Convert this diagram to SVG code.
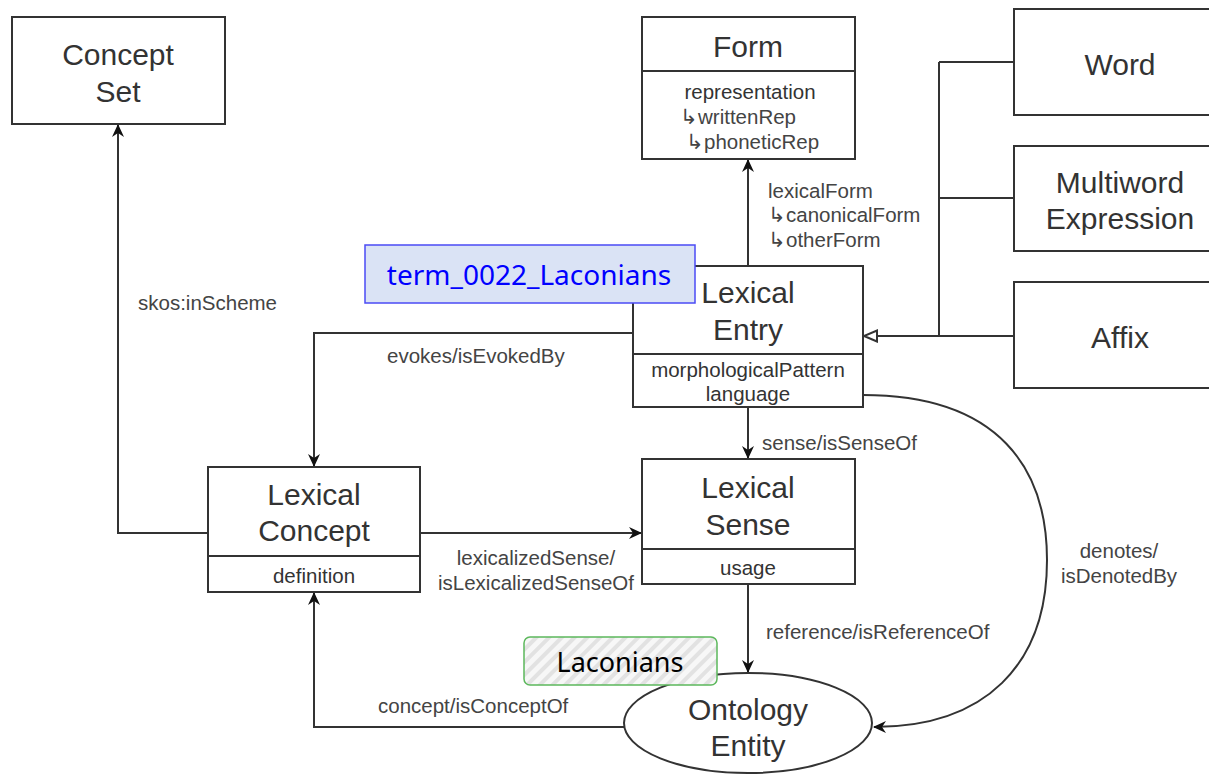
<svg xmlns="http://www.w3.org/2000/svg" width="1209" height="774" viewBox="0 0 1209 774">
<defs>
<style>
.box{fill:#fff;stroke:#333;stroke-width:2}
.ln{fill:none;stroke:#333;stroke-width:2}
.t{font-family:"Liberation Sans",Arial,sans-serif;font-size:30px;fill:#333;text-anchor:middle}
.a{font-family:"Liberation Sans",Arial,sans-serif;font-size:20.5px;fill:#333;text-anchor:middle}
.l{font-family:"Liberation Sans",Arial,sans-serif;font-size:20.5px;fill:#444}
.lc{font-family:"Liberation Sans",Arial,sans-serif;font-size:20.5px;fill:#444;text-anchor:middle}
.tag{font-family:"Noto Sans",sans-serif;font-size:27px;text-anchor:middle}
.tag28{font-size:28px}
</style>
<marker id="arr" markerWidth="14" markerHeight="12" refX="12" refY="6" orient="auto" markerUnits="userSpaceOnUse">
<path d="M0,0 L13,6 L0,12 L4,6 z" fill="#111"/>
</marker>
<marker id="tri" markerWidth="16" markerHeight="14" refX="14" refY="7" orient="auto" markerUnits="userSpaceOnUse">
<path d="M1,1.5 L14,7 L1,12.5 z" fill="#fff" stroke="#333" stroke-width="2"/>
</marker>
<pattern id="hatch" width="9" height="9" patternUnits="userSpaceOnUse" patternTransform="rotate(45)">
<rect width="9" height="9" fill="#f7f7f7"/>
<rect width="4" height="9" fill="#e2e2e2"/>
</pattern>
</defs>
<rect width="1209" height="774" fill="#fff"/>

<g id="connectors">
<path class="ln" d="M748,266 V160" marker-end="url(#arr)"/>
<path class="ln" d="M939,62 V336 M939,62 H1014 M939,198 H1014"/>
<path class="ln" d="M1014,336 H864" marker-end="url(#tri)"/>
<path class="ln" d="M633,333 H314 V466" marker-end="url(#arr)"/>
<path class="ln" d="M748,407 V458" marker-end="url(#arr)"/>
<path class="ln" d="M420,533 H641" marker-end="url(#arr)"/>
<path class="ln" d="M208,533 H118 V125" marker-end="url(#arr)"/>
<path class="ln" d="M748,584 V672" marker-end="url(#arr)"/>
<path class="ln" d="M624,727 H314 V593" marker-end="url(#arr)"/>
<path class="ln" d="M863,395 C1000,395 1047,470 1047,560 C1047,665 985,727 874,727" marker-end="url(#arr)"/>
<text class="l" x="768" y="198">lexicalForm</text>
<text class="l" x="768" y="222">↳canonicalForm</text>
<text class="l" x="768" y="247">↳otherForm</text>
<text class="l" x="387" y="363">evokes/isEvokedBy</text>
<text class="l" x="138" y="310">skos:inScheme</text>
<text class="l" x="762" y="450">sense/isSenseOf</text>
<text class="lc" x="536" y="565">lexicalizedSense/</text>
<text class="lc" x="536" y="590">isLexicalizedSenseOf</text>
<text class="l" x="766" y="639">reference/isReferenceOf</text>
<text class="lc" x="1119" y="558">denotes/</text>
<text class="lc" x="1119" y="583">isDenotedBy</text>
<text class="l" x="378" y="713">concept/isConceptOf</text>
</g>

<g id="concept-set">
<rect class="box" x="12" y="17" width="213" height="107"/>
<text class="t" x="118" y="65">Concept</text>
<text class="t" x="118" y="102">Set</text>
</g>

<g id="form">
<rect class="box" x="642" y="17" width="213" height="142"/>
<line class="ln" x1="642" y1="71" x2="855" y2="71"/>
<text class="t" x="748" y="57">Form</text>
<text class="a" x="750" y="99">representation</text>
<text class="l" x="680" y="124" fill="#333">↳writtenRep</text>
<text class="l" x="686" y="149" fill="#333">↳phoneticRep</text>
</g>

<g id="word">
<rect class="box" x="1014" y="9" width="200" height="106"/>
<text class="t" x="1120" y="75">Word</text>
</g>

<g id="multiword">
<rect class="box" x="1014" y="146" width="200" height="105"/>
<text class="t" x="1120" y="193">Multiword</text>
<text class="t" x="1120" y="229">Expression</text>
</g>

<g id="affix">
<rect class="box" x="1014" y="282" width="200" height="106"/>
<text class="t" x="1120" y="348">Affix</text>
</g>

<g id="lexical-entry">
<rect class="box" x="633" y="266" width="230" height="141"/>
<line class="ln" x1="633" y1="354" x2="863" y2="354"/>
<text class="t" x="748" y="303">Lexical</text>
<text class="t" x="748" y="340">Entry</text>
<text class="a" x="748" y="377">morphologicalPattern</text>
<text class="a" x="748" y="401">language</text>
</g>

<g id="lexical-concept">
<rect class="box" x="208" y="467" width="212" height="125"/>
<line class="ln" x1="208" y1="556" x2="420" y2="556"/>
<text class="t" x="314" y="505">Lexical</text>
<text class="t" x="314" y="541">Concept</text>
<text class="a" x="314" y="583">definition</text>
</g>

<g id="lexical-sense">
<rect class="box" x="642" y="459" width="213" height="125"/>
<line class="ln" x1="642" y1="549" x2="855" y2="549"/>
<text class="t" x="748" y="498">Lexical</text>
<text class="t" x="748" y="535">Sense</text>
<text class="a" x="748" y="575">usage</text>
</g>

<g id="ontology-entity">
<ellipse class="box" cx="748" cy="723" rx="124" ry="50"/>
<text class="t" x="748" y="720">Ontology</text>
<text class="t" x="748" y="756">Entity</text>
</g>

<g id="term-label">
<rect x="365" y="245" width="330" height="58" fill="#dae3f5" stroke="#4b4bf5" stroke-width="1.5"/>
<text class="tag tag28" x="529" y="285" fill="#0000ff">term_0022_Laconians</text>
</g>

<g id="laconians-label">
<rect x="524" y="637" width="193" height="48" rx="6" ry="6" fill="url(#hatch)" stroke="#5cb85c" stroke-width="1.5"/>
<text class="tag" x="620" y="672" fill="#000">Laconians</text>
</g>
</svg>
